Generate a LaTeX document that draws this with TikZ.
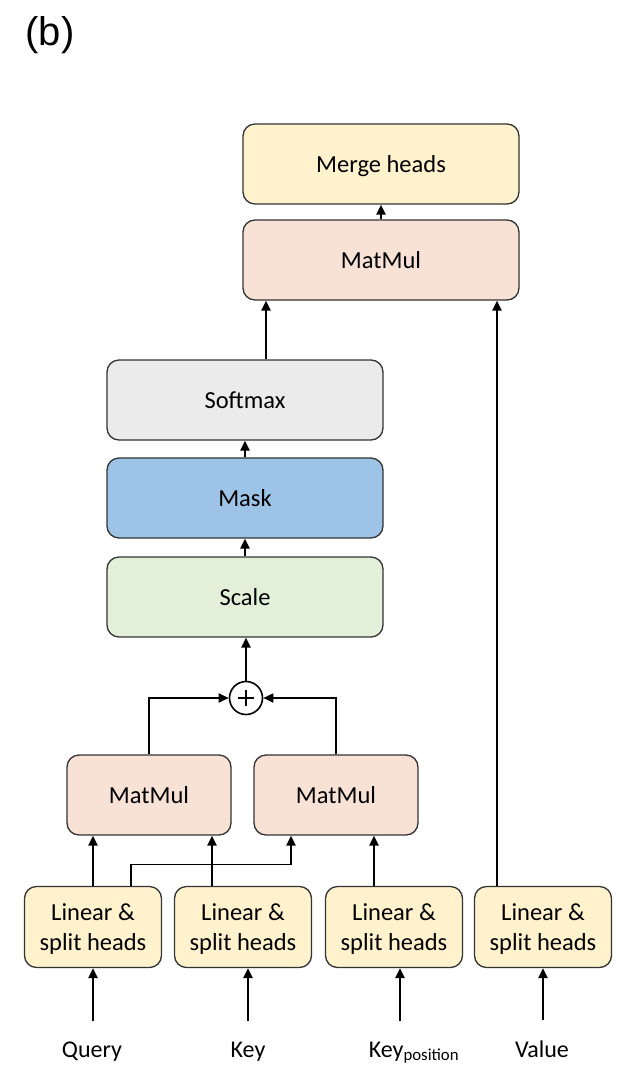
\documentclass[tikz,border=0pt]{standalone}
\usepackage{fontspec}
\setmainfont{Carlito}
\newfontfamily\labelfont{Liberation Sans}
\usetikzlibrary{arrows.meta,calc}
\definecolor{headyellow}{HTML}{FFF2CC}
\definecolor{mulpink}{HTML}{F8E1D5}
\definecolor{softgray}{HTML}{EBEBEB}
\definecolor{maskblue}{HTML}{9DC3E6}
\definecolor{scalegreen}{HTML}{E2F0D9}
\definecolor{edgegray}{HTML}{333333}
\tikzset{
         box/.style={rectangle,draw=edgegray,line width=1.3pt,rounded corners=12pt,inner sep=0pt,align=center,
          text depth=0pt,font=\fontsize{24.5}{30}\selectfont},
         arr/.style={line width=2.6pt,-{Triangle[length=10pt,width=9pt]}},
         link/.style={line width=1.8pt},
         inlabel/.style={anchor=base,inner sep=0pt,font=\fontsize{24}{28}\selectfont}
        }
\begin{document}
\begin{tikzpicture}[x=1pt,y=-1pt]
\useasboundingbox(0,0)rectangle(625,1092);
\node[anchor=center,font=\labelfont\fontsize{40}{42}\selectfont]at(50,35){(b)};
%attention stack
\node[box,fill=headyellow,minimum width=276pt,minimum height=80pt](merge)at(381,164){Merge heads};
\node[box,fill=mulpink,minimum width=276pt,minimum height=80pt](matmultop)at(381,260){MatMul};
\node[box,fill=softgray,minimum width=276pt,minimum height=80pt](softmax)at(245,400){Softmax};
\node[box,fill=maskblue,minimum width=276pt,minimum height=80pt](mask)at(245,498){Mask};
\node[box,fill=scalegreen,minimum width=276pt,minimum height=80pt](scale)at(245,597){Scale};
\node[circle,draw=black,line width=1.6pt,minimum size=33pt,inner sep=0pt](plus)at(246,698){};
\draw[line width=1.6pt]([xshift=-8pt]plus.center)--([xshift=8pt]plus.center);
\draw[line width=1.6pt]([yshift=-8pt]plus.center)--([yshift=8pt]plus.center);
\node[box,fill=mulpink,minimum width=164pt,minimum height=80pt](matmulleft)at(149,795){MatMul};
\node[box,fill=mulpink,minimum width=164pt,minimum height=80pt](matmulright)at(336,795){MatMul};
%linear layers
\node[box,fill=headyellow,minimum width=137pt,minimum height=81pt](linq)at(93,927){Linear \&\\split heads};
\node[box,fill=headyellow,minimum width=137pt,minimum height=81pt](link)at(243,927){Linear \&\\split heads};
\node[box,fill=headyellow,minimum width=137pt,minimum height=81pt](linkp)at(394,927){Linear \&\\split heads};
\node[box,fill=headyellow,minimum width=137pt,minimum height=81pt](linv)at(543,927){Linear \&\\split heads};
%inputs
\node[inlabel](query)at(92,1057){Query};
\node[inlabel](key)at(248,1057){Key};
\node[inlabel](keypos)at(414,1057){Key\textsubscript{position}};
\node[inlabel](value)at(542,1057){Value};
\draw[arr]([xshift=1pt,yshift=20pt]query.north)--([xshift=1pt]query.north|-linq.south);
\draw[arr]([yshift=20pt]key.north)--(key.north|-link.south);
\draw[arr]([xshift=-14pt,yshift=20pt]keypos.north)--([xshift=-14pt]keypos.north|-linkp.south);
\draw[arr]([xshift=1pt,yshift=20pt]value.north)--([xshift=1pt]value.north|-linv.south);
%into the matmuls
\draw[arr](linq.north)--(linq.north|-matmulleft.south);
\draw[arr]([xshift=-31pt]link.north)--([xshift=-31pt]link.north|-matmulleft.south);
\draw[line width=1.4pt]([xshift=38pt]linq.north)|-([xshift=-45pt,yshift=-29pt]matmulright.south)coordinate(bend);
\draw[arr](bend)--(bend|-matmulright.south);
\draw[arr]([xshift=-20pt]linkp.north)--([xshift=-20pt]linkp.north|-matmulright.south);
\draw[arr]([xshift=-46pt]linv.north)--([xshift=-46pt]linv.north|-matmultop.south);
%score path
\draw[link,-{Triangle[length=10pt,width=9pt]}](matmulleft.north)|-(plus.west);
\draw[link,-{Triangle[length=10pt,width=9pt]}](matmulright.north)|-(plus.east);
\draw[arr](plus.north)--(plus.north|-scale.south);
\draw[arr](scale.north)--(scale.north|-mask.south);
\draw[arr](mask.north)--(mask.north|-softmax.south);
\draw[arr]([xshift=21pt]softmax.north)--([xshift=21pt]softmax.north|-matmultop.south);
\draw[arr](matmultop.north)--(merge.south);
\end{tikzpicture}
\end{document}
